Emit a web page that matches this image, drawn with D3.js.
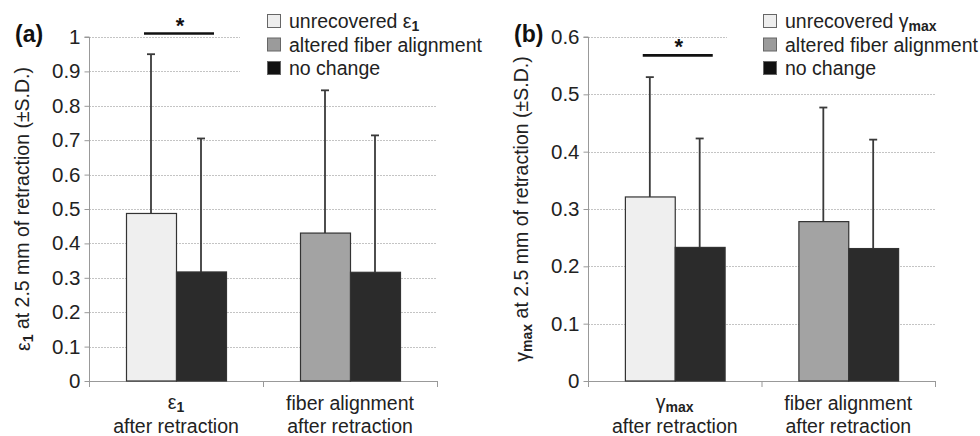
<!DOCTYPE html>
<html>
<head>
<meta charset="utf-8">
<script src="https://cdn.jsdelivr.net/npm/d3@7"></script>
<style>
  html, body { margin: 0; padding: 0; background: #fff; }
  svg { display: block; font-family: "Liberation Sans", Arial, sans-serif; }
</style>
</head>
<body>
<svg id="chart" width="980" height="436"></svg>
<script>
// two-panel grouped bar chart: (a) principal strain, (b) max shear strain

// data
const groupKeys = [["unrecovered", "none"], ["altered", "none"]];
const aMeans = [[0.487, 0.317], [0.430, 0.316]];
const aSD = [[0.463, 0.388], [0.415, 0.398]];
const bMeans = [[0.321, 0.233], [0.278, 0.231]];
const bSD = [[0.209, 0.190], [0.199, 0.190]];
const aTicks = [0, 0.1, 0.2, 0.3, 0.4, 0.5, 0.6, 0.7, 0.8, 0.9, 1];
const bTicks = [0, 0.1, 0.2, 0.3, 0.4, 0.5, 0.6];
const aSig = 1.01;
const bSig = 0.568;

const fills = { unrecovered: "#efefef", altered: "#a3a3a3", none: "#2b2b2b" };
const swatchFills = { unrecovered: "#eeeeee", altered: "#9b9b9b", none: "#111111" };

// text pieces: [text, isSubscript]
const eps = [["ε", false], ["1", true]];
const gam = [["γ", false], ["max", true]];
const tail = [[" at 2.5 mm of retraction (±S.D.)", false]];

const FS = 19.5; // main text size
const SUB = 14;

const svg = d3.select("#chart");

function rich(text, parts, subSize) {
  parts.forEach(([t, sub], i) => {
    const prevSub = i > 0 && parts[i - 1][1];
    const ts = text.append("tspan").text(t);
    if (sub) ts.attr("dy", "0.24em").attr("font-size", subSize).attr("font-weight", "bold");
    else if (prevSub) ts.attr("dy", "-0.24em");
  });
  return text;
}

function panel(o) {
  const g = svg.append("g");
  const y = d3.scaleLinear().domain([0, o.max]).range([381, 37]);
  const x0 = d3.scaleBand().domain([0, 1]).range([o.left, o.right]);
  const x1 = d3.scaleBand().domain([0, 1]).range([0, x0.bandwidth()]).paddingOuter(0.74);

  // gridlines
  g.append("g")
    .selectAll("line")
    .data(o.ticks.slice(1))
    .join("line")
    .attr("x1", o.left)
    .attr("x2", o.right)
    .attr("y1", (d) => Math.round(y(d)) + 0.5)
    .attr("y2", (d) => Math.round(y(d)) + 0.5)
    .attr("stroke", "#c4c4c4")
    .attr("stroke-dasharray", "2,1");

  // legend backdrop hides the top gridlines
  g.append("rect")
    .attr("x", o.legendBox)
    .attr("y", 0)
    .attr("width", 980 - o.legendBox)
    .attr("height", 84)
    .attr("fill", "#fff");

  // y axis
  const yAxis = d3.axisLeft(y).tickValues(o.ticks).tickSize(5).tickPadding(4)
    .tickFormat((d) => (d === 0 ? "0" : d === 1 ? "1" : d3.format(".1f")(d)));
  const yG = g.append("g").attr("transform", `translate(${o.left + 0.5},0)`).call(yAxis)
    .attr("font-family", null).attr("font-size", null);
  yG.select(".domain").attr("stroke", "#999").attr("d", `M-5,${y(o.max)}H0V381.5`);
  yG.selectAll(".tick line").attr("stroke", "#999");
  yG.selectAll("text").attr("font-size", 20.5).attr("fill", "#222");

  // x axis
  g.append("line")
    .attr("x1", o.left).attr("x2", o.right + 1)
    .attr("y1", 381.5).attr("y2", 381.5)
    .attr("stroke", "#999");
  g.append("g")
    .selectAll("line")
    .data([o.left, o.left + x0.step(), o.right])
    .join("line")
    .attr("x1", (d) => d + 0.5).attr("x2", (d) => d + 0.5)
    .attr("y1", 381).attr("y2", 387)
    .attr("stroke", "#999");

  // bars
  const bars = [];
  o.means.forEach((grp, gi) =>
    grp.forEach((m, bi) =>
      bars.push({ gi, bi, key: groupKeys[gi][bi], mean: m, sd: o.sd[gi][bi] })
    )
  );
  const bx = (d) => x0(d.gi) + x1(d.bi);

  // error bars (upper only), drawn under bars
  const err = g.append("g").attr("stroke", "#3a3a3a").attr("stroke-width", 1.8);
  err.selectAll(".stem")
    .data(bars)
    .join("line")
    .attr("x1", (d) => bx(d) + x1.bandwidth() / 2)
    .attr("x2", (d) => bx(d) + x1.bandwidth() / 2)
    .attr("y1", (d) => y(d.mean))
    .attr("y2", (d) => y(d.mean + d.sd));
  err.selectAll(".cap")
    .data(bars)
    .join("line")
    .attr("x1", (d) => bx(d) + x1.bandwidth() / 2 - 4)
    .attr("x2", (d) => bx(d) + x1.bandwidth() / 2 + 4)
    .attr("y1", (d) => y(d.mean + d.sd))
    .attr("y2", (d) => y(d.mean + d.sd));

  g.append("g")
    .selectAll("rect")
    .data(bars)
    .join("rect")
    .attr("x", (d) => bx(d) + 0.5)
    .attr("y", (d) => y(d.mean))
    .attr("width", x1.bandwidth())
    .attr("height", (d) => y(0) - y(d.mean))
    .attr("fill", (d) => fills[d.key])
    .attr("stroke", "#333")
    .attr("stroke-width", 1.2);

  // significance bar
  const cx = x0(0) + x0.bandwidth() / 2 + 3;
  g.append("line")
    .attr("x1", cx - 35).attr("x2", cx + 35)
    .attr("y1", y(o.sig)).attr("y2", y(o.sig))
    .attr("stroke", "#111").attr("stroke-width", 2.6);
  g.append("text")
    .attr("x", cx + 1).attr("y", y(o.sig) - 1)
    .attr("text-anchor", "middle")
    .attr("font-size", 22).attr("font-weight", "bold").attr("fill", "#111")
    .text("*");

  // panel letter
  g.append("text")
    .attr("x", o.left - 74).attr("y", 42)
    .attr("font-size", 23).attr("font-weight", "bold").attr("fill", "#111")
    .text(o.letter);

  // y title
  rich(
    g.append("text")
      .attr("transform", `translate(${o.left - 59},209) rotate(-90)`)
      .attr("text-anchor", "middle")
      .attr("font-size", FS).attr("fill", "#222"),
    o.sym.concat(tail), SUB
  );

  // category labels
  const cat1 = g.append("text")
    .attr("x", x0(0) + x0.bandwidth() / 2).attr("y", 409)
    .attr("text-anchor", "middle").attr("font-size", FS).attr("fill", "#222");
  rich(cat1, o.sym, SUB);
  g.append("text")
    .attr("x", x0(1) + x0.bandwidth() / 2).attr("y", 410)
    .attr("text-anchor", "middle").attr("font-size", FS).attr("fill", "#222")
    .text("fiber alignment");
  [0, 1].forEach((i) =>
    g.append("text")
      .attr("x", x0(i) + x0.bandwidth() / 2).attr("y", 433)
      .attr("text-anchor", "middle").attr("font-size", FS).attr("fill", "#222")
      .text("after retraction")
  );

  // legend
  const legendRows = [
    ["unrecovered", [["unrecovered ", false]].concat(o.sym)],
    ["altered", [["altered fiber alignment", false]]],
    ["none", [["no change", false]]],
  ];
  const lg = g.append("g").attr("transform", `translate(${o.legendX},0)`);
  legendRows.forEach(([key, parts], i) => {
    const cy = 21 + i * 23.5;
    lg.append("rect")
      .attr("x", 0.5).attr("y", cy - 6.5)
      .attr("width", 13).attr("height", 13)
      .attr("fill", swatchFills[key]).attr("stroke", "#666");
    rich(
      lg.append("text").attr("x", 22).attr("y", cy + 7)
        .attr("font-size", FS).attr("fill", "#222"),
      parts, SUB
    );
  });
}

panel({
  letter: "(a)", left: 89, right: 437, max: 1, ticks: aTicks,
  means: aMeans, sd: aSD, sig: aSig, sym: eps, legendX: 267, legendBox: 240,
});
panel({
  letter: "(b)", left: 588, right: 935, max: 0.6, ticks: bTicks,
  means: bMeans, sd: bSD, sig: bSig, sym: gam, legendX: 763, legendBox: 727,
});
</script>
</body>
</html>
